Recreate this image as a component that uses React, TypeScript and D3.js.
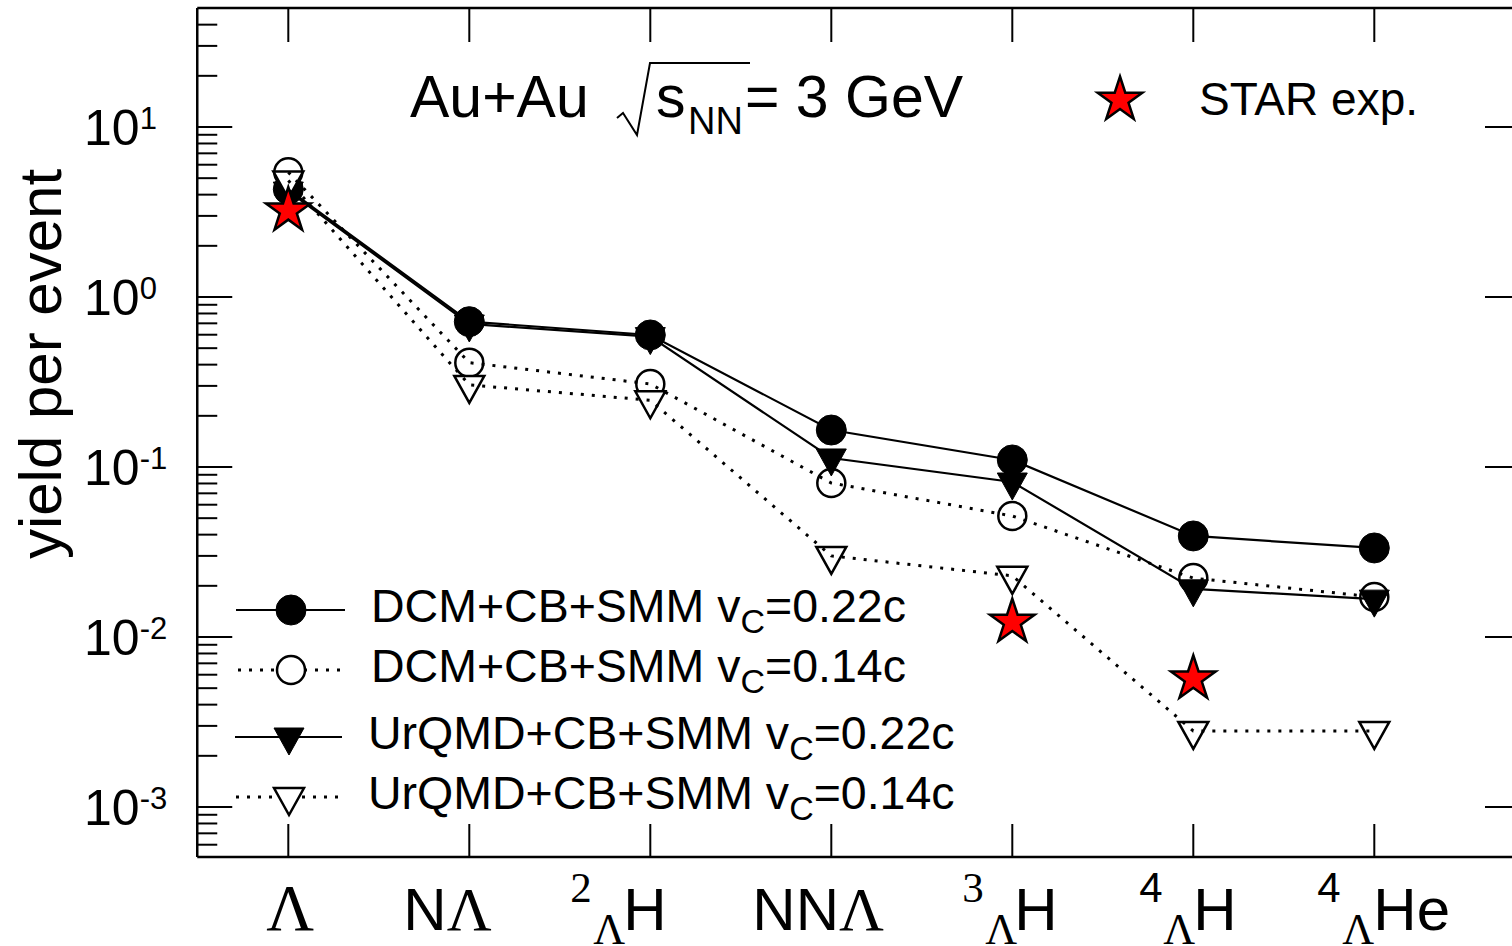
import React from "react";
import * as d3 from "d3";

// ---------- data ----------
const categories = ["Λ", "NΛ", "2ΛH", "NNΛ", "3ΛH", "4ΛH", "4ΛHe"];
const dcm022 = [4.3, 0.716, 0.598, 0.165, 0.11, 0.0393, 0.0334];
const dcm014 = [5.42, 0.411, 0.308, 0.0805, 0.0515, 0.0222, 0.0172];
const urqmd022 = [4.2, 0.694, 0.585, 0.113, 0.0816, 0.0192, 0.0167];
const urqmd014 = [4.85, 0.304, 0.247, 0.03, 0.0229, 0.0028, 0.0028];
const starIdx = [0, 4, 5];
const starVal = [3.22, 0.01225, 0.00568];
const yTickExps = [1, 0, -1, -2, -3];
const legendLabels = [
  ["DCM+CB+SMM v", "C", "=0.22c"],
  ["DCM+CB+SMM v", "C", "=0.14c"],
  ["UrQMD+CB+SMM v", "C", "=0.22c"],
  ["UrQMD+CB+SMM v", "C", "=0.14c"],
];
// label pieces: [superscript, subscript, main]
const isoParts: Record<string, [string, string, string]> = {
  "2ΛH": ["2", "Λ", "H"],
  "3ΛH": ["3", "Λ", "H"],
  "4ΛH": ["4", "Λ", "H"],
  "4ΛHe": ["4", "Λ", "He"],
};

// ---------- layout ----------
const W = 1512;
const H = 946;
const x = d3.scaleLinear().domain([0, 6]).range([288.3, 1374.3]);
const y = d3.scaleLog().domain([5.08e-4, 50.12]).range([857, 8]);
const LEFT = x(-0.503);
const RIGHT = 1520;
const TOP = 8;
const BOTTOM = 857;
const SANS = "Liberation Sans, Arial, sans-serif";
const SERIF = "Liberation Serif, Times New Roman, serif";

const starPath = (R: number) => {
  const r = R * 0.382;
  const pts: [number, number][] = [];
  for (let i = 0; i < 10; i++) {
    const a = -Math.PI / 2 + (i * Math.PI) / 5;
    const rr = i % 2 === 0 ? R : r;
    pts.push([rr * Math.cos(a), rr * Math.sin(a)]);
  }
  return "M" + pts.map((p) => p.join(",")).join("L") + "Z";
};
const triPath = "M-15,-9L15,-9L0,18Z";

type Kind = "fc" | "oc" | "ft" | "ot";
const Marker = ({ kind, cx, cy }: { kind: Kind; cx: number; cy: number }) => {
  if (kind === "fc") return <circle cx={cx} cy={cy} r={15} fill="black" stroke="black" strokeWidth={1} />;
  if (kind === "oc") return <circle cx={cx} cy={cy} r={14} fill="white" stroke="black" strokeWidth={2.5} />;
  if (kind === "ft") return <path d={triPath} transform={`translate(${cx},${cy})`} fill="black" stroke="black" strokeWidth={1} />;
  return <path d={triPath} transform={`translate(${cx},${cy})`} fill="white" stroke="black" strokeWidth={2.5} />;
};

const series: { vals: number[]; kind: Kind; dotted: boolean }[] = [
  { vals: dcm022, kind: "fc", dotted: false },
  { vals: dcm014, kind: "oc", dotted: true },
  { vals: urqmd022, kind: "ft", dotted: false },
  { vals: urqmd014, kind: "ot", dotted: true },
];

const line = d3
  .line<number>()
  .x((_, i) => x(i))
  .y((d) => y(d));

const dotted = { strokeDasharray: "3 8", strokeWidth: 3 };

export default function App() {
  // minor ticks
  const minors: number[] = [];
  for (let e = -4; e <= 1; e++) {
    for (let k = 2; k <= 9; k++) {
      const v = k * Math.pow(10, e);
      const py = y(v);
      if (py > TOP + 0.5 && py < BOTTOM - 0.5) minors.push(py);
    }
  }
  const legendY = [610, 670, 737, 797];
  const legendKinds: Kind[] = ["fc", "oc", "ft", "ot"];
  const legendX0 = [236, 238, 235, 236];
  const legendX1 = [345, 340, 342, 338];
  const legendMx = [291, 291, 289, 289];
  const legendTx = [371, 371, 368, 368];
  const isoOffsets: Record<string, [number, number, number]> = {
    "2ΛH": [-80, -57, -27],
    "3ΛH": [-50, -27, 2],
    "4ΛH": [-54, -30, 0],
    "4ΛHe": [-57, -32, -1],
  };

  return (
    <svg
      width={W}
      height={H}
      style={{ position: "absolute", left: 0, top: 0, background: "white" }}
      fontFamily={SANS}
    >
      <rect x={0} y={0} width={W} height={H} fill="white" />
      {/* frame */}
      <g stroke="black" strokeWidth={2.5} fill="none">
        <line x1={LEFT} y1={TOP} x2={RIGHT} y2={TOP} />
        <line x1={LEFT} y1={BOTTOM} x2={RIGHT} y2={BOTTOM} />
        <line x1={LEFT} y1={TOP} x2={LEFT} y2={BOTTOM} />
        <line x1={RIGHT} y1={TOP} x2={RIGHT} y2={BOTTOM} />
      </g>
      {/* ticks */}
      <g stroke="black" strokeWidth={2}>
        {yTickExps.map((e) => (
          <g key={"mj" + e}>
            <line x1={LEFT} x2={LEFT + 35} y1={y(Math.pow(10, e))} y2={y(Math.pow(10, e))} />
            <line x1={RIGHT - 35} x2={RIGHT} y1={y(Math.pow(10, e))} y2={y(Math.pow(10, e))} />
          </g>
        ))}
        {minors.map((py, i) => (
          <line key={"mn" + i} x1={LEFT} x2={LEFT + 20} y1={py} y2={py} />
        ))}
        {categories.map((c, i) => (
          <g key={"xt" + i}>
            <line x1={x(i)} x2={x(i)} y1={TOP} y2={TOP + 34} />
            <line x1={x(i)} x2={x(i)} y1={BOTTOM} y2={BOTTOM - 33} />
          </g>
        ))}
      </g>
      {/* y tick labels */}
      {yTickExps.map((e) => (
        <text key={"yl" + e} x={84} y={y(Math.pow(10, e)) + 18} fontSize={50} fill="black">
          10
          <tspan dy={-16} fontSize={31}>
            {e < 0 ? "-" + Math.abs(e) : String(e)}
          </tspan>
        </text>
      ))}
      {/* y axis title */}
      <text
        transform={`translate(61,364) rotate(-90)`}
        textAnchor="middle"
        fontSize={60}
        fill="black"
      >
        yield per event
      </text>
      {/* x labels */}
      {categories.map((c, i) => {
        const cx = x(i);
        if (c === "Λ")
          return (
            <text key={c} x={cx + 2} y={930} textAnchor="middle" fontFamily={SERIF} fontSize={66}>
              Λ
            </text>
          );
        if (c === "NΛ" || c === "NNΛ") {
          const n = c.slice(0, -1);
          return (
            <text key={c} x={c === "NΛ" ? cx - 66 : cx - 79} y={930} fontSize={60}>
              {n}
              <tspan fontFamily={SERIF} fontSize={62}>
                Λ
              </tspan>
            </text>
          );
        }
        const [sup, sub, main] = isoParts[c];
        const [o1, o2, o3] = isoOffsets[c];
        const supSerif = sup !== "4";
        return (
          <g key={c}>
            <text x={cx + o1} y={902} fontFamily={supSerif ? SERIF : SANS} fontSize={supSerif ? 43 : 42}>
              {sup}
            </text>
            <text x={cx + o2} y={944} fontFamily={SERIF} fontSize={44}>
              {sub}
            </text>
            <text x={cx + o3} y={930} fontSize={60}>
              {main}
            </text>
          </g>
        );
      })}
      {/* series markers */}
      {series.map((s, si) => (
        <g key={"m" + si}>
          {s.vals.map((v, i) => (
            <Marker key={i} kind={s.kind} cx={x(i)} cy={y(v)} />
          ))}
        </g>
      ))}
      {/* series lines */}
      {series.map((s, si) => (
        <path
          key={"l" + si}
          d={line(s.vals) || ""}
          fill="none"
          stroke="black"
          strokeWidth={2.2}
          {...(s.dotted ? dotted : {})}
        />
      ))}
      {/* STAR */}
      {starIdx.map((ci, i) => (
        <path
          key={"s" + i}
          d={starPath(23.5)}
          transform={`translate(${x(ci)},${y(starVal[i])})`}
          fill="red"
          stroke="black"
          strokeWidth={2.5}
          strokeLinejoin="miter"
        />
      ))}
      {/* title */}
      <text x={410} y={117} fontSize={59}>
        Au+Au
      </text>
      <path d="M617,118 L623,113 L637,135 L650,63 L750,63" fill="none" stroke="black" strokeWidth={2} />
      <text x={656} y={117} fontSize={59}>
        s
      </text>
      <text x={688} y={134} fontSize={38}>
        NN
      </text>
      <text x={745} y={117} fontSize={59}>
        = 3 GeV
      </text>
      {/* STAR legend */}
      <path d={starPath(23.5)} transform="translate(1120,100)" fill="red" stroke="black" strokeWidth={2.5} />
      <text x={1199} y={115} fontSize={46}>
        STAR exp.
      </text>
      {/* legend */}
      {legendLabels.map((lab, i) => (
        <g key={"lg" + i}>
          <line
            x1={legendX0[i]}
            x2={legendX1[i]}
            y1={legendY[i]}
            y2={legendY[i]}
            stroke="black"
            strokeWidth={2}
            {...(i % 2 === 1 ? dotted : {})}
          />
          <Marker kind={legendKinds[i]} cx={legendMx[i]} cy={legendY[i]} />
          <text x={legendTx[i]} y={legendY[i] + 12} fontSize={46.5}>
            {lab[0]}
            <tspan dy={11} fontSize={34}>
              {lab[1]}
            </tspan>
            <tspan dy={-11}>{lab[2]}</tspan>
          </text>
        </g>
      ))}
    </svg>
  );
}
